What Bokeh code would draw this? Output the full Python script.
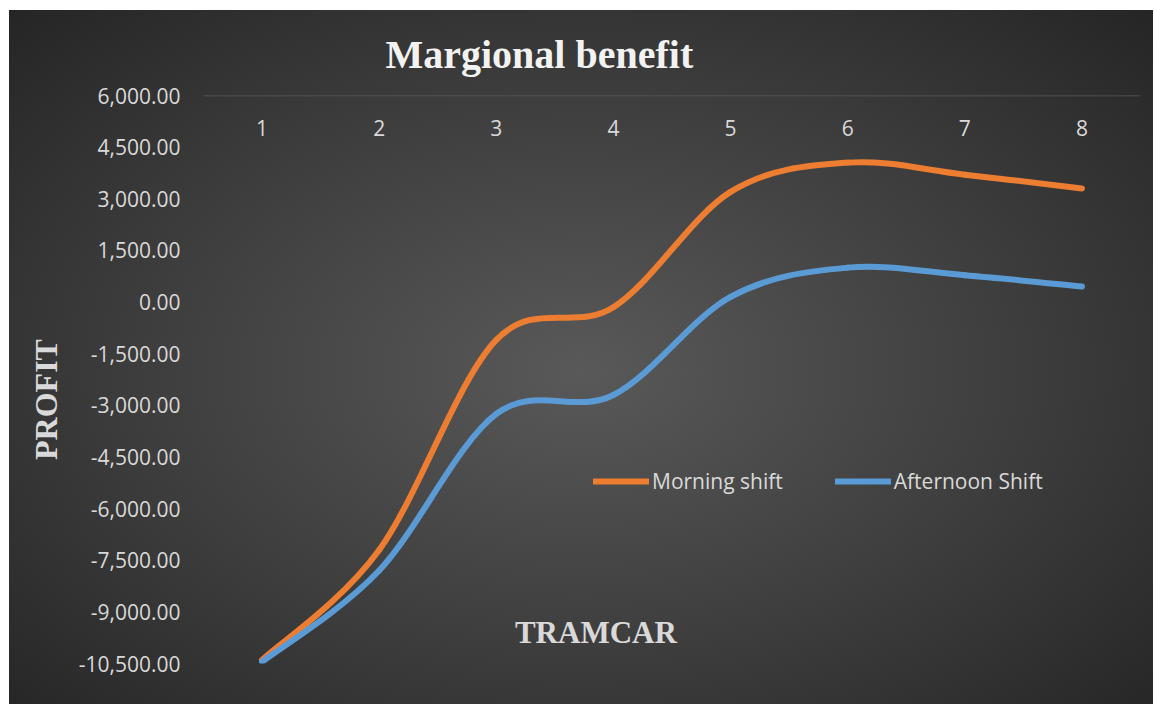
from bokeh.plotting import figure
from bokeh.models import (Range1d, LinearAxis, FixedTicker, NumeralTickFormatter,
                          Label, Legend, LegendItem, ColumnDataSource, Title)
from bokeh.embed import file_html
from bokeh.resources import INLINE

# ---------------- data ----------------
categories = ["1", "2", "3", "4", "5", "6", "7", "8"]
morning = [-10400, -7200, -1100, -150, 3200, 4050, 3700, 3300]
afternoon = [-10450, -7800, -3250, -2700, 150, 1000, 780, 450]
y_ticks = [-10500, -9000, -7500, -6000, -4500, -3000, -1500, 0, 1500, 3000, 4500, 6000]

series_names = ["Morning shift", "Afternoon Shift"]
series_colors = ["#ED7D31", "#5B9BD5"]

xs = [i + 1 for i in range(len(categories))]


def bezier_source(x, y):
    """Smoothed (Catmull-Rom style, like a spreadsheet 'smoothed line') segments."""
    n = len(x)
    d = dict(x0=[], y0=[], x1=[], y1=[], cx0=[], cy0=[], cx1=[], cy1=[])
    for i in range(n - 1):
        ip = max(i - 1, 0)
        inx = min(i + 2, n - 1)
        d["x0"].append(x[i]); d["y0"].append(y[i])
        d["x1"].append(x[i + 1]); d["y1"].append(y[i + 1])
        d["cx0"].append(x[i] + (x[i + 1] - x[ip]) / 6.0)
        d["cy0"].append(y[i] + (y[i + 1] - y[ip]) / 6.0)
        d["cx1"].append(x[i + 1] - (x[inx] - x[i]) / 6.0)
        d["cy1"].append(y[i + 1] - (y[inx] - y[i]) / 6.0)
    return ColumnDataSource(d)


TXT = "#d9d9d9"
SANS = "Open Sans"
SERIF = "Liberation Serif"

p = figure(width=1144, height=694,
           x_range=Range1d(0.5, 8.5), y_range=Range1d(y_ticks[0], y_ticks[-1]),
           output_backend="svg", toolbar_location=None,
           x_axis_location=None, y_axis_location=None,
           min_border_left=194, min_border_right=13,
           min_border_top=84, min_border_bottom=41)

p.background_fill_color = None
p.border_fill_color = None
p.outline_line_color = None
p.xgrid.grid_line_color = None
p.ygrid.grid_line_color = None
p.styles = {"background": "radial-gradient(ellipse farthest-corner at 50% 52%, #595959 0%, #3d3d3d 55%, #252525 100%)",
            "margin": "10px 0 0 9px"}

p.title = Title(text="Margional benefit", align="left", offset=182, text_font=SERIF,
                text_font_style="bold", text_font_size="40px", text_color="#f2f2f2",
                standoff=38)

# y axis
yaxis = LinearAxis(ticker=FixedTicker(ticks=y_ticks),
                   formatter=NumeralTickFormatter(format="0,0.00"))
yaxis.axis_line_color = None
yaxis.major_tick_line_color = None
yaxis.minor_tick_line_color = None
yaxis.major_label_text_font = SANS
yaxis.major_label_text_font_size = "21px"
yaxis.major_label_text_color = TXT
yaxis.major_label_standoff = 17
yaxis.axis_label = "PROFIT" + "\u00a0" * 5
yaxis.axis_label_text_font = SERIF
yaxis.axis_label_text_font_style = "bold"
yaxis.axis_label_text_font_size = "32px"
yaxis.axis_label_text_color = TXT
yaxis.axis_label_standoff = 12
p.add_layout(yaxis, "left")

# x axis (crosses at the top of the value axis)
xaxis = LinearAxis(ticker=FixedTicker(ticks=xs), fixed_location=y_ticks[-1])
xaxis.major_label_overrides = {xv: c for xv, c in zip(xs, categories)}
xaxis.axis_line_color = "#5a5a5a"
xaxis.axis_line_width = 1.5
xaxis.major_tick_line_color = None
xaxis.minor_tick_line_color = None
xaxis.major_label_text_font = SANS
xaxis.major_label_text_font_size = "21px"
xaxis.major_label_text_color = TXT
xaxis.major_label_standoff = 18
p.add_layout(xaxis, "below")

renderers = []
for vals, col in zip([morning, afternoon], series_colors):
    src = bezier_source(xs, vals)
    r = p.bezier(x0="x0", y0="y0", x1="x1", y1="y1", cx0="cx0", cy0="cy0",
                 cx1="cx1", cy1="cy1", source=src, line_color=col,
                 line_width=6, line_cap="round")
    renderers.append(r)

legend = Legend(items=[LegendItem(label=n, renderers=[r]) for n, r in zip(series_names, renderers)],
                orientation="horizontal", location=(390, 168),
                background_fill_alpha=0, border_line_color=None,
                label_text_color=TXT, label_text_font=SANS, label_text_font_size="21px",
                glyph_width=56, glyph_height=20, spacing=52, padding=0, margin=0,
                label_standoff=3)
p.add_layout(legend)

p.add_layout(Label(x=3.85, y=-9603, text="TRAMCAR", text_font=SERIF,
                   text_font_style="bold", text_font_size="31px", text_color=TXT,
                   text_align="center", text_baseline="middle"))

open("out.html", "w").write(file_html(p, INLINE))
